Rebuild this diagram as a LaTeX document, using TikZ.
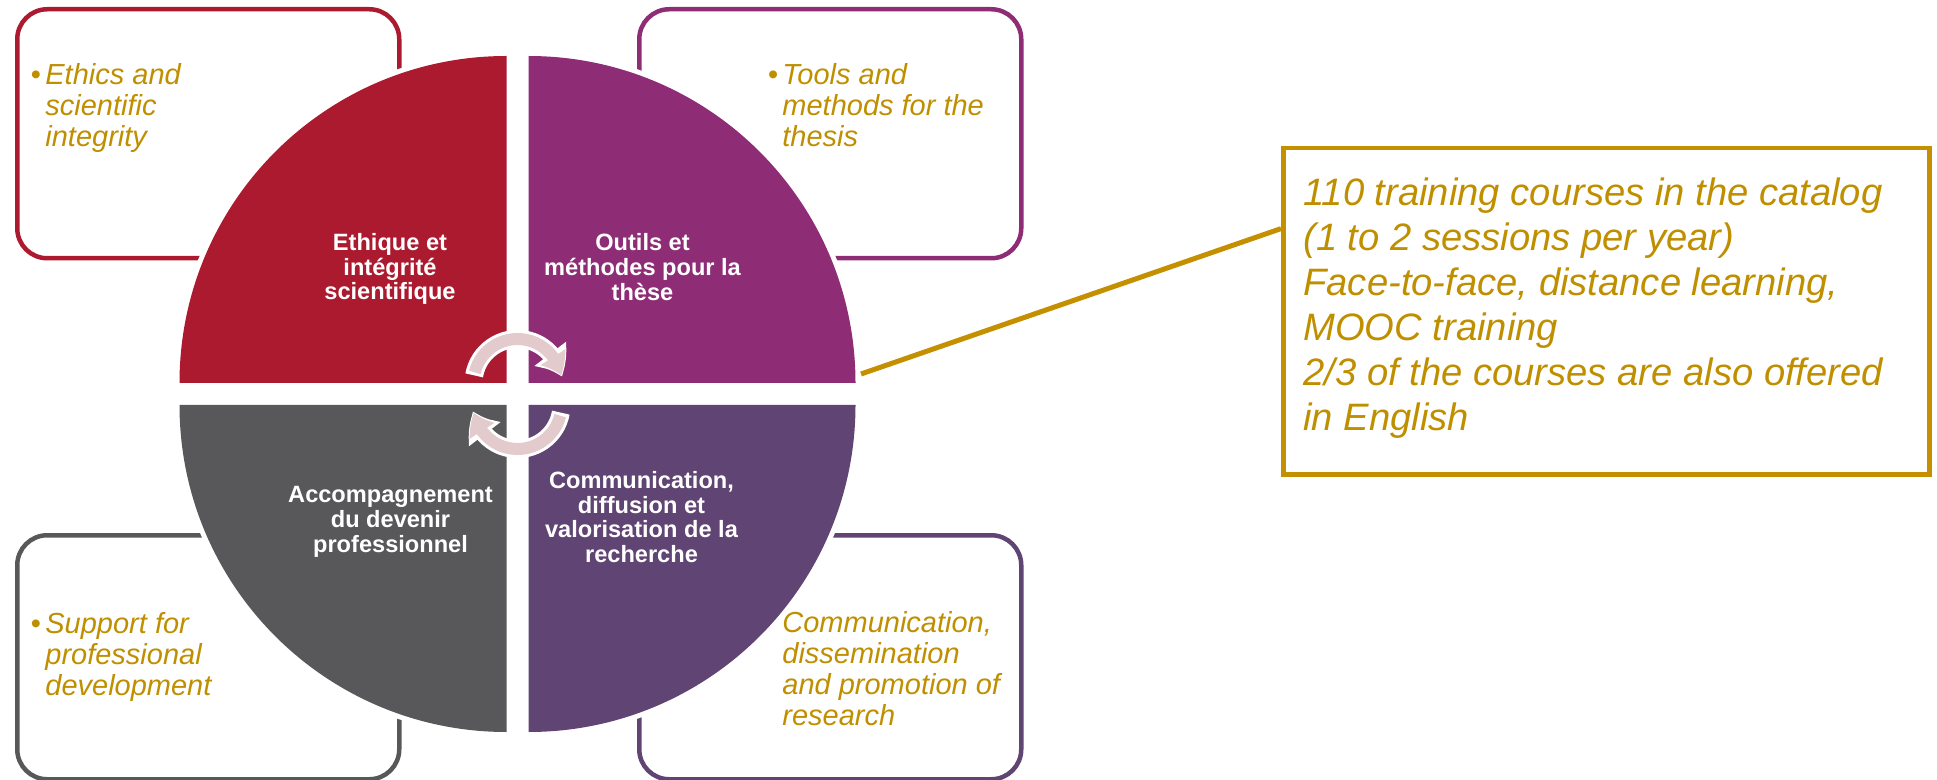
\documentclass[tikz,border=0pt]{standalone}
\usepackage{fontspec}
\setmainfont{Liberation Sans}
\usetikzlibrary{arrows.meta,bending,calc}
\definecolor{ethicsred}{HTML}{AB1A2F}
\definecolor{toolspurple}{HTML}{8E2D76}
\definecolor{supportgrey}{HTML}{58585A}
\definecolor{commpurple}{HTML}{604473}
\definecolor{gold}{HTML}{BF8F00}
\definecolor{goldline}{HTML}{C49000}
\definecolor{arrowpink}{HTML}{E3CACD}
\tikzstyle{cornerbox} = [rectangle, line width=2.25pt, rounded corners=15pt,
    inner sep=0pt, minimum width=191pt, minimum height=124.5pt, anchor=north west]
\tikzstyle{cornertext} = [text=gold, align=left, inner sep=0pt, anchor=north west,
    font={\fontsize{14.5}{15.5}\selectfont\itshape}]
\tikzstyle{quartergap} = [draw=white, line width=5pt]
\tikzstyle{quartertext} = [text=white, align=center, inner sep=0pt,
    font={\fontsize{11.8}{12.4}\selectfont\bfseries}]
\tikzstyle{calloutbox} = [draw=goldline, line width=2.25pt, rectangle, inner sep=0pt,
    minimum width=323pt, minimum height=163pt, anchor=north west]
\tikzstyle{callouttext} = [text=gold, align=left, inner sep=0pt, anchor=north west,
    font={\fontsize{19.1}{22.5}\selectfont\itshape}]
\tikzstyle{calloutline} = [draw=goldline, line width=2.5pt]
\tikzstyle{cyclearrow} = [draw=arrowpink, line width=6pt, -{Triangle[width=14pt,length=10pt,bend]}]
\tikzstyle{cycleshadow} = [draw=white, line width=9pt, -{Triangle[width=19pt,length=13pt,bend]}]
\begin{document}
\begin{tikzpicture}[x=0.5pt, y=-0.5pt]
    \useasboundingbox (0,0) rectangle (1937,780);
    \node [cornerbox, draw=ethicsred] (ethicsBox) at (15,7) {};
    \node [cornerbox, draw=toolspurple] (toolsBox) at (637,7) {};
    \node [cornerbox, draw=supportgrey, minimum height=122pt] (supportBox) at (15,533) {};
    \node [cornerbox, draw=commpurple, minimum height=122pt] (commBox) at (637,533) {};
    \node [cornertext] (ethicsText) at (45,63) {\llap{•\hspace{2.25pt}}Ethics and\\scientific\\integrity};
    \node [cornertext] (toolsText) at (782,63) {\llap{•\hspace{2.25pt}}Tools and\\methods for the\\thesis};
    \node [cornertext] (supportText) at (45,612) {\llap{•\hspace{2.25pt}}Support for\\professional\\development};
    \node [cornertext] (commText) at (782,611) {Communication,\\dissemination\\and promotion of\\research};
    \foreach \cx/\cy/\a/\col in {506.5/383/180/ethicsred, 528.5/383/270/toolspurple,
                                 528.5/405/0/commpurple, 506.5/405/90/supportgrey}{
        \draw [quartergap] (\cx,\cy) -- ++(\a:327) arc[start angle=\a, end angle=\a+90, radius=327] -- cycle;
        \fill [\col] (\cx,\cy) -- ++(\a:327) arc[start angle=\a, end angle=\a+90, radius=327] -- cycle;
    }
    \node [quartertext] (ethicsLabel) at (390,269) {Ethique et\\intégrité\\scientifique};
    \node [quartertext] (toolsLabel) at (642.5,267) {Outils et\\méthodes pour la\\thèse};
    \node [quartertext] (supportLabel) at (390.5,522) {Accompagnement\\du devenir\\professionnel};
    \node [quartertext] (commLabel) at (641.5,517) {Communication,\\diffusion et\\valorisation de la\\recherche};
    \coordinate (cycleTop) at (517.5,383);
    \coordinate (cycleBottom) at (517.5,405);
    \draw [cycleshadow] ([shift={(190:44)}]cycleTop) arc[start angle=190, end angle=352, radius=44];
    \draw [cyclearrow] ([shift={(194:44)}]cycleTop) arc[start angle=194, end angle=350, radius=44];
    \draw [cycleshadow] ([shift={(10:44)}]cycleBottom) arc[start angle=10, end angle=172, radius=44];
    \draw [cyclearrow] ([shift={(14:44)}]cycleBottom) arc[start angle=14, end angle=170, radius=44];
    \node [calloutbox] (callout) at (1281,146) {};
    \node [callouttext] (calloutText) at (1303,177.5) {110 training courses in the catalog\\(1 to 2 sessions per year)\\Face-to-face, distance learning,\\MOOC training\\2/3 of the courses are also offered\\in English};
    \coordinate (lineStart) at (861,374);
    \draw [calloutline] (lineStart) -- ($(callout.north west)!0.25!(callout.south west)$);
\end{tikzpicture}
\end{document}
